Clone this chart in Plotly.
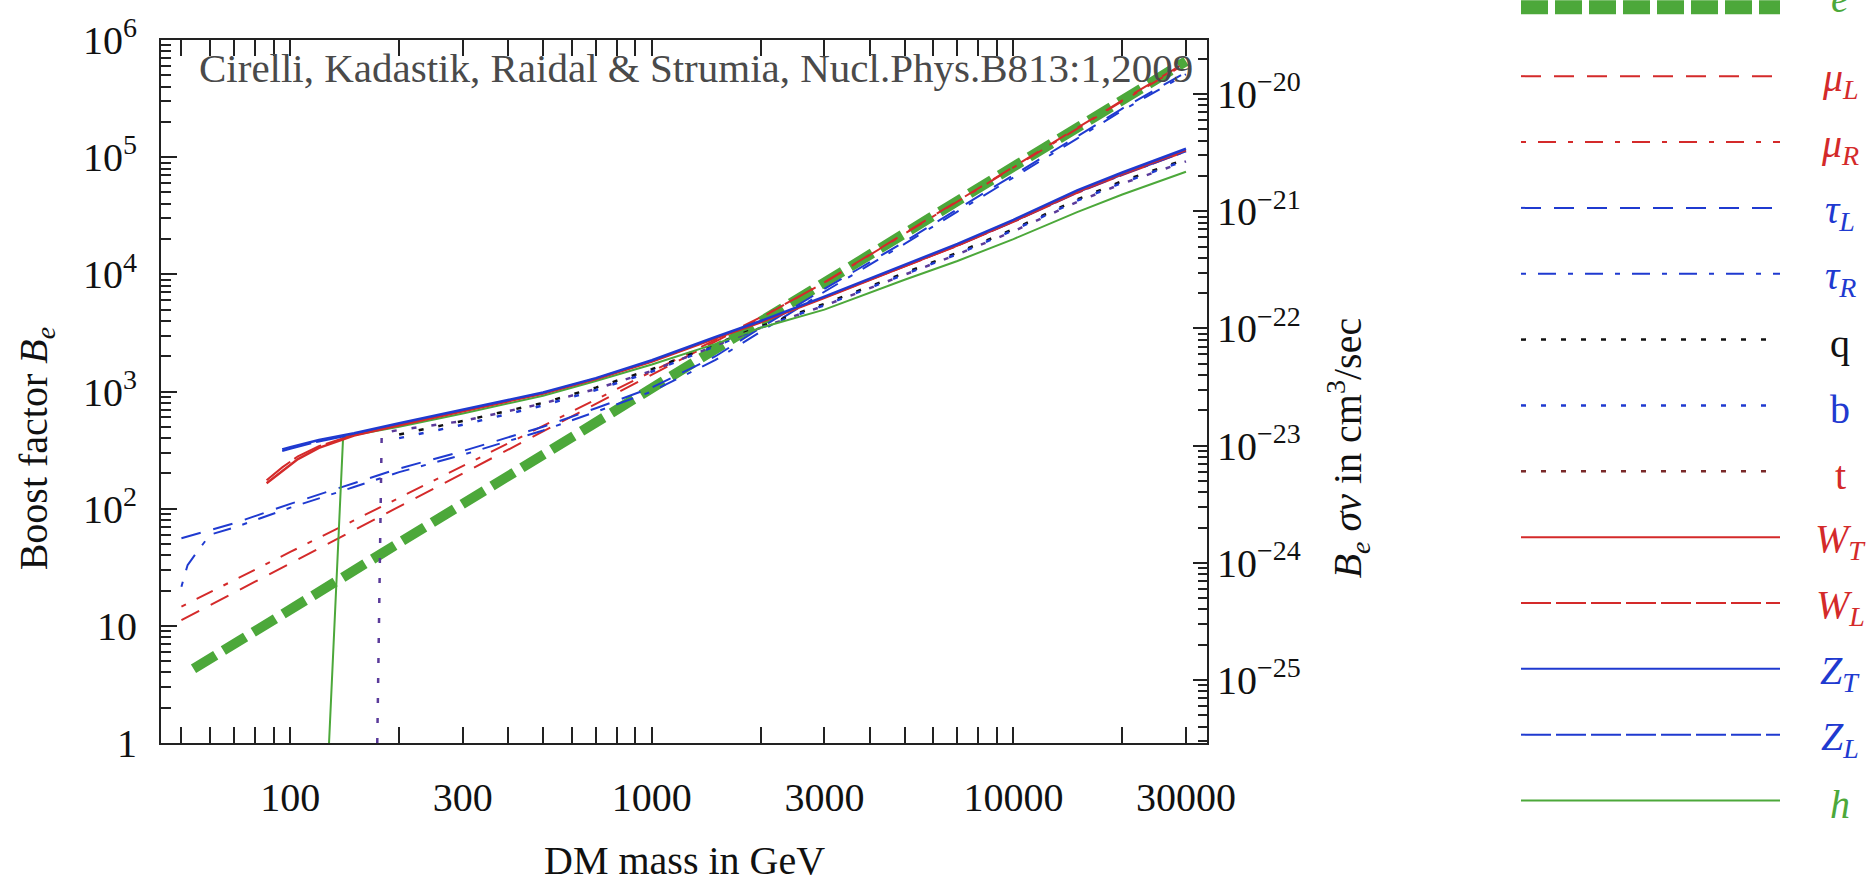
import plotly.graph_objects as go
import math

# ---------------- data (DM mass in GeV, boost factor B_e) ----------------
m_e = [54, 100, 300, 1000, 3000, 10000, 30000]
B_e = [4.3, 13.8, 110, 1070, 8530, 83000, 660000]

m_mu = [50, 70, 100, 150, 200, 300, 500, 700, 1000, 1500, 2000, 3000, 5000, 7000, 10000, 15000, 20000, 30000]
B_muL = [11.2, 19.3, 34.3, 65.6, 104, 200, 456, 783, 1390, 2670, 4240, 8550, 22400, 42400, 83000, 178000, 305000, 645000]
B_muR = [14.6, 24.7, 42.7, 79.4, 124, 231, 509, 855, 1480, 2760, 4300, 8500, 22200, 42000, 82000, 176000, 300000, 630000]

m_tauL = [50, 60, 70, 100, 150, 200, 300, 500, 700, 1000, 1500, 2000, 3000, 5000, 7000, 10000, 15000, 20000, 30000]
B_tauL = [56, 66, 75, 110, 165, 220, 310, 500, 720, 1080, 2000, 3500, 7500, 19000, 36000, 70000, 150000, 260000, 530000]
m_tauR = [50, 52, 55, 60, 70, 100, 150, 200, 300, 500, 700, 1000, 1500, 2000, 3000, 5000, 7000, 10000, 15000, 20000, 30000]
B_tauR = [21.6, 33, 42, 60, 69, 102, 153, 205, 288, 465, 670, 1000, 1860, 3250, 7100, 18200, 34500, 67000, 144000, 250000, 510000]

m_q = [200, 300, 500, 700, 1000, 1500, 2000, 3000, 5000, 7000, 10000, 15000, 20000, 30000]
B_q = [430, 560, 800, 1080, 1550, 2550, 3600, 5600, 10300, 15300, 24300, 43500, 62500, 96000]
B_b = [400, 520, 760, 1030, 1480, 2450, 3500, 5450, 10000, 14900, 23800, 42500, 60500, 94000]
m_t = [174, 179, 200, 300, 500, 700, 1000, 1500, 2000, 3000, 5000, 7000, 10000, 15000, 20000, 30000]
B_t = [1, 440, 470, 560, 790, 1050, 1500, 2450, 3500, 5400, 9900, 14800, 23300, 41500, 59500, 92000]

m_W = [86, 95, 105, 120, 150, 200, 300, 500, 700, 1000, 1500, 2000, 3000, 5000, 7000, 10000, 15000, 20000, 30000]
B_WT = [165, 210, 265, 330, 420, 515, 680, 960, 1280, 1800, 2840, 3900, 6300, 11800, 17700, 28400, 50500, 72000, 115000]
B_WL = [175, 225, 280, 342, 428, 522, 688, 968, 1290, 1815, 2860, 3930, 6350, 11700, 17500, 28000, 49500, 70500, 112000]
m_Z = [95, 100, 120, 150, 200, 300, 500, 700, 1000, 1500, 2000, 3000, 5000, 7000, 10000, 15000, 20000, 30000]
B_ZT = [320, 335, 385, 440, 535, 700, 980, 1300, 1850, 2920, 4000, 6450, 12100, 18200, 29200, 52000, 74000, 118000]
B_ZL = [310, 325, 375, 430, 525, 690, 965, 1280, 1820, 2880, 3950, 6350, 11800, 17700, 28200, 50000, 71000, 112000]
m_h = [128, 140, 150, 200, 300, 500, 700, 1000, 1500, 2000, 3000, 5000, 7000, 10000, 15000, 20000, 30000]
B_h = [1, 410, 425, 500, 650, 920, 1230, 1700, 2550, 3500, 5000, 9000, 13000, 20000, 34000, 48000, 75000]

x_tickvals = [100, 300, 1000, 3000, 10000, 30000]
x_ticktext = ["100", "300", "1000", "3000", "10000", "30000"]
x_minor = [50, 60, 70, 80, 90, 200, 400, 500, 600, 700, 800, 900, 2000, 4000, 5000, 6000, 7000, 8000, 9000, 20000]
y_tickvals = [1, 10, 100, 1000, 1e4, 1e5, 1e6]
y_ticktext = ["1", "10", "10<sup>2</sup>", "10<sup>3</sup>", "10<sup>4</sup>", "10<sup>5</sup>", "10<sup>6</sup>"]
y2_tickvals = [1e-25, 1e-24, 1e-23, 1e-22, 1e-21, 1e-20]
y2_ticktext = ["10<sup>\u221225</sup>", "10<sup>\u221224</sup>", "10<sup>\u221223</sup>",
               "10<sup>\u221222</sup>", "10<sup>\u221221</sup>", "10<sup>\u221220</sup>"]

# ---------------- styles ----------------
RED = "#d42a2a"
BLUE = "#1f3ad0"
GREEN = "#4ca83a"
BLACK = "#111111"
FONT = "Liberation Serif, Times New Roman, serif"

W, H = 1868, 885
L, R, T, B = 161, 1207, 32, 743

def px_x(px):
    return (px - L) / (R - L)

def px_y(py):
    return (B - py) / (B - T)

fig = go.Figure()

def add(m, b, color, dash, width):
    fig.add_trace(go.Scatter(x=m, y=b, mode="lines", hoverinfo="skip",
                             line=dict(color=color, dash=dash, width=width)))

DASH = "20px,13px"
DASHDOT = "5px,12px,18px,12px"
DOT = "5px,15px"
LONGDASH = "30px,5px"

add(m_e, B_e, GREEN, "26px,9px", 10)
add(m_mu, B_muL, RED, DASH, 2)
add(m_mu, B_muR, RED, DASHDOT, 2)
add(m_tauL, B_tauL, BLUE, DASH, 2)
add(m_tauR, B_tauR, BLUE, DASHDOT, 2)
add(m_q, B_q, BLACK, DOT, 2.5)
add(m_q, B_b, BLUE, DOT, 2.5)
add(m_t, B_t, "#5a3a9a", DOT, 2.5)
add(m_h, B_h, GREEN, "solid", 2)
add(m_W, B_WL, RED, LONGDASH, 2)
add(m_Z, B_ZL, BLUE, LONGDASH, 2)
add(m_W, B_WT, RED, "solid", 2.5)
add(m_Z, B_ZT, BLUE, "solid", 2.5)

# invisible trace to activate the right axis
fig.add_trace(go.Scatter(x=[1000], y=[1e-22], yaxis="y2", mode="markers",
                         marker=dict(opacity=0), hoverinfo="skip"))

axis_common = dict(showline=True, linecolor="#222", linewidth=2, ticks="inside",
                   tickcolor="#222", tickwidth=1.5, showgrid=False, zeroline=False,
                   tickfont=dict(family=FONT, size=40, color="#111"))

fig.update_layout(
    width=W, height=H,
    margin=dict(l=L, r=W - R, t=T, b=H - B, pad=0),
    paper_bgcolor="white", plot_bgcolor="white", showlegend=False,
    xaxis=dict(type="log", range=[math.log10(43.9), math.log10(34300)],
               tickmode="array", tickvals=x_tickvals, ticktext=x_ticktext,
               ticklen=16, mirror="ticks", ticklabelstandoff=18,
               minor=dict(tickmode="array", tickvals=x_minor, ticks="inside",
                          ticklen=16, tickcolor="#222", tickwidth=1.5),
               **axis_common),
    yaxis=dict(type="log", range=[0, 6], tickmode="array", tickvals=y_tickvals,
               ticktext=y_ticktext, ticklen=16, ticklabelstandoff=14,
               minor=dict(tickmode="array",
                          tickvals=[k * 10 ** e for e in range(0, 6) for k in range(2, 10)],
                          ticks="inside", ticklen=10, tickcolor="#222", tickwidth=1.5),
               **axis_common),
    yaxis2=dict(type="log", overlaying="y", side="right", range=[-25.538, -19.538],
                tickmode="array", tickvals=y2_tickvals, ticktext=y2_ticktext,
                ticklen=14, ticklabelstandoff=0,
                minor=dict(tickmode="array",
                           tickvals=[k * 10.0 ** e for e in range(-26, -19) for k in range(2, 10)],
                           ticks="inside", ticklen=9, tickcolor="#222", tickwidth=1.5),
                **axis_common),
)

ann = []
ann.append(dict(text="Cirelli, Kadastik, Raidal &amp; Strumia, Nucl.Phys.B813:1,2009",
                x=px_x(197), y=px_y(60), xref="paper", yref="paper", xanchor="left",
                yanchor="middle", showarrow=False,
                font=dict(family=FONT, size=41, color="#4a4a4a")))
ann.append(dict(text="DM mass in GeV", x=0.5, y=px_y(862), xref="paper", yref="paper",
                xanchor="center", yanchor="middle", showarrow=False,
                font=dict(family=FONT, size=40, color="#111")))
ann.append(dict(text="Boost factor <i>B<sub>e</sub></i>", x=px_x(36), y=px_y(445),
                xref="paper", yref="paper", xanchor="center", yanchor="middle",
                textangle=-90, showarrow=False, font=dict(family=FONT, size=40, color="#111")))
ann.append(dict(text="<i>B<sub>e</sub></i> <i>\u03c3v</i> in cm<sup>3</sup>/sec", x=px_x(1348),
                y=px_y(445), xref="paper", yref="paper", xanchor="center", yanchor="middle",
                textangle=-90, showarrow=False, font=dict(family=FONT, size=40, color="#111")))

# ---------------- legend (drawn manually) ----------------
leg_labels = ["<i>e</i>", "<i>\u03bc<sub>L</sub></i>", "<i>\u03bc<sub>R</sub></i>",
              "<i>\u03c4<sub>L</sub></i>", "<i>\u03c4<sub>R</sub></i>", "q", "b", "t",
              "<i>W<sub>T</sub></i>", "<i>W<sub>L</sub></i>", "<i>Z<sub>T</sub></i>",
              "<i>Z<sub>L</sub></i>", "<i>h</i>"]
leg_colors = [GREEN, RED, RED, BLUE, BLUE, BLACK, BLUE, RED, RED, RED, BLUE, BLUE, GREEN]
leg_line_colors = [GREEN, RED, RED, BLUE, BLUE, BLACK, BLUE, "#7a2a2a", RED, RED, BLUE, BLUE, GREEN]
leg_dash = ["27px,7px", DASH, DASHDOT, DASH, DASHDOT, DOT, DOT, DOT, "solid", LONGDASH,
            "solid", LONGDASH, "solid"]
leg_width = [14, 2, 2, 2, 2, 2.5, 2.5, 2.5, 2, 2, 2, 2, 2]

shapes = []
for i in range(len(leg_labels)):
    if i == 0:
        yy, ylab = -1, -10
    else:
        yy = 2 + 66.6 * i
        ylab = yy + 4
    shapes.append(dict(type="line", xref="paper", yref="paper",
                       x0=px_x(1521), x1=px_x(1780), y0=px_y(yy), y1=px_y(yy),
                       line=dict(color=leg_line_colors[i], width=leg_width[i], dash=leg_dash[i])))
    ann.append(dict(text=leg_labels[i], x=px_x(1840), y=px_y(ylab), xref="paper", yref="paper",
                    xanchor="center", yanchor="middle", showarrow=False,
                    font=dict(family=FONT, size=40, color=leg_colors[i])))

fig.update_layout(annotations=ann, shapes=shapes)

fig.write_html("out.html", config={"displayModeBar": False},
               post_script="document.body.style.margin='0';")
